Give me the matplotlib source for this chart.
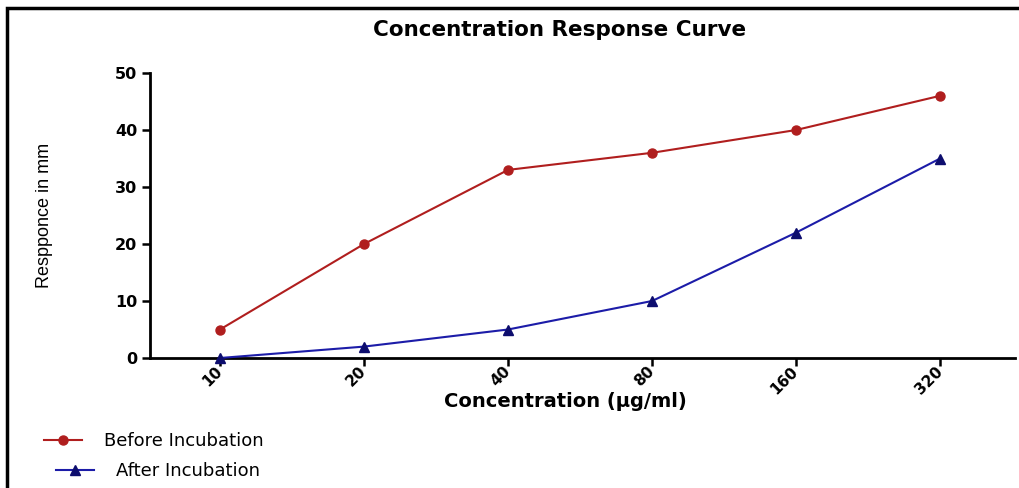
import matplotlib
matplotlib.use("Agg")
import matplotlib.pyplot as plt
from matplotlib.patches import Rectangle
from matplotlib.lines import Line2D

concentrations = ["10", "20", "40", "80", "160", "320"]
before_incubation = [5, 20, 33, 36, 40, 46]
after_incubation = [0, 2, 5, 10, 22, 35]
y_ticks = [0, 10, 20, 30, 40, 50]

red = "#b01e1e"
blue = "#1c1ca8"
navy = "#0d0d6e"

fig = plt.figure(figsize=(10.2, 4.88), dpi=100)
ax = fig.add_axes([150/1020, 1-358/488, (1015-150)/1020, (358-73)/488])

x = list(range(len(concentrations)))
ax.plot(x, before_incubation, color=red, lw=1.5, marker="o", ms=6.5,
        mfc=red, mec=red, label="Before Incubation", clip_on=False, zorder=3)
ax.plot(x, after_incubation, color=blue, lw=1.5, marker="^", ms=6.5,
        mfc=navy, mec=navy, label="After Incubation", clip_on=False, zorder=3)

ax.set_xlim(-0.486, 5.52)
ax.set_ylim(0, 50)
ax.set_xticks(x)
ax.set_xticklabels(concentrations, rotation=45, ha="right", va="center",
                   rotation_mode="anchor", fontweight="bold", fontsize=11,
                   family="DejaVu Sans")
ax.set_yticks(y_ticks)
ax.set_yticklabels([str(v) for v in y_ticks], fontweight="bold", fontsize=11.5,
                   family="DejaVu Sans")
ax.tick_params(axis="both", direction="out", length=6, width=1.8, color="black")
ax.tick_params(axis="x", pad=2)
ax.tick_params(axis="y", pad=3)
for s in ["top", "right"]:
    ax.spines[s].set_visible(False)
for s in ["left", "bottom"]:
    ax.spines[s].set_linewidth(2)

ax.set_xlabel("Concentration (µg/ml)", fontweight="bold", fontsize=14,
              family="DejaVu Sans")
ax.xaxis.set_label_coords((565-150)/865, (358-392)/285)
ax.set_ylabel("Respponce in mm", fontsize=13, family="Liberation Sans")
ax.yaxis.set_label_coords((53-150)/865, 0.5)

fig.text(560/1020, 1-30/488, "Concentration Response Curve", ha="center",
         va="center", fontweight="bold", fontsize=15.5, family="DejaVu Sans")

h_before = Line2D([], [], color=red, lw=1.5, marker="o", ms=6.5, mfc=red, mec=red)
h_after = Line2D([], [], color=blue, lw=1.5, marker="^", ms=6.5, mfc=navy, mec=navy)
fig.legend([h_before], ["Before Incubation"], loc="center left",
           bbox_to_anchor=(35/1020, 1-441/488), frameon=False, handlelength=2.1,
           handletextpad=1.2, borderpad=0, prop={"family": "DejaVu Sans", "size": 13})
fig.legend([h_after], ["After Incubation"], loc="center left",
           bbox_to_anchor=(47/1020, 1-471/488), frameon=False, handlelength=2.1,
           handletextpad=1.2, borderpad=0, prop={"family": "DejaVu Sans", "size": 13})

fig.add_artist(Rectangle((7/1020, -0.1), 1.2, 1-8/488+0.1, transform=fig.transFigure,
                         fill=False, ec="black", lw=2.5))

fig.savefig("out.png", dpi=100)
